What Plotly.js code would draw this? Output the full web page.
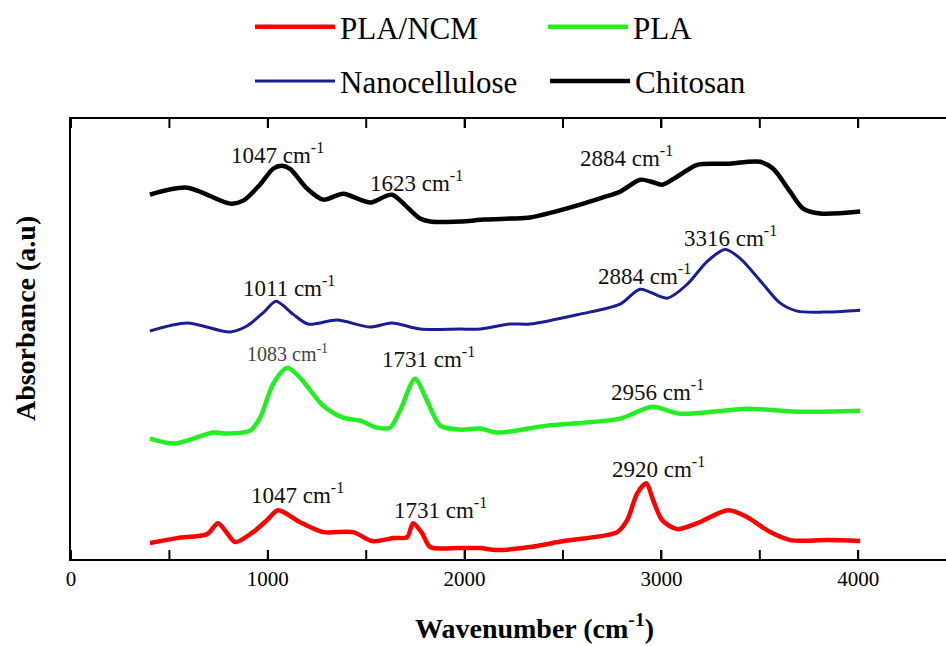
<!DOCTYPE html>
<html>
<head>
<meta charset="utf-8">
<script src="https://cdn.plot.ly/plotly-3.0.1.min.js"></script>
<style>html,body{margin:0;padding:0;background:#fff;}#chart{width:946px;height:646px;}</style>
</head>
<body>
<div id="chart"></div>
<script>
// Wavenumber (cm-1) and absorbance (a.u., offset-stacked)
const seriesNames = ["PLA/NCM", "PLA", "Nanocellulose", "Chitosan"];

const chitosanX = [401, 590, 808, 875, 960, 1027, 1070, 1113, 1200, 1281, 1383, 1469, 1520, 1631, 1700, 1774, 1825, 1977, 2100, 2231, 2333, 2460, 2587, 2700, 2790, 2892, 2950, 3004, 3095, 3182, 3334, 3502, 3568, 3654, 3720, 3807, 4010];
const chitosanY = [3.66, 3.73, 3.57, 3.60, 3.76, 3.92, 3.95, 3.92, 3.72, 3.61, 3.67, 3.61, 3.58, 3.66, 3.55, 3.42, 3.39, 3.39, 3.41, 3.42, 3.43, 3.49, 3.56, 3.63, 3.69, 3.81, 3.79, 3.76, 3.86, 3.96, 3.97, 3.99, 3.92, 3.69, 3.52, 3.47, 3.49];

const nanoX = [401, 590, 808, 894, 980, 1042, 1128, 1204, 1352, 1520, 1631, 1774, 1977, 2079, 2231, 2333, 2587, 2790, 2892, 3029, 3131, 3233, 3324, 3400, 3517, 3604, 3690, 3822, 4010];
const nanoY = [2.29, 2.37, 2.28, 2.34, 2.48, 2.59, 2.46, 2.36, 2.40, 2.33, 2.37, 2.31, 2.31, 2.31, 2.36, 2.36, 2.46, 2.56, 2.71, 2.62, 2.76, 2.99, 3.11, 3.02, 2.76, 2.57, 2.49, 2.48, 2.50];

const plaX = [401, 529, 722, 793, 910, 961, 1027, 1098, 1164, 1281, 1383, 1469, 1555, 1621, 1672, 1748, 1809, 1876, 1977, 2079, 2165, 2419, 2790, 2953, 3095, 3436, 3690, 4010];
const plaY = [1.21, 1.16, 1.27, 1.26, 1.29, 1.42, 1.76, 1.92, 1.82, 1.54, 1.42, 1.39, 1.32, 1.32, 1.49, 1.81, 1.59, 1.34, 1.30, 1.31, 1.27, 1.34, 1.41, 1.53, 1.46, 1.51, 1.48, 1.49];

const plaNcmX = [401, 539, 691, 747, 793, 834, 925, 996, 1052, 1164, 1281, 1433, 1530, 1637, 1708, 1738, 1784, 1825, 1977, 2079, 2165, 2333, 2501, 2775, 2826, 2877, 2923, 2958, 3004, 3080, 3182, 3339, 3436, 3553, 3654, 3842, 4010];
const plaNcmY = [0.16, 0.21, 0.25, 0.36, 0.26, 0.17, 0.27, 0.39, 0.49, 0.37, 0.27, 0.27, 0.18, 0.21, 0.22, 0.36, 0.26, 0.12, 0.11, 0.11, 0.09, 0.12, 0.18, 0.27, 0.39, 0.66, 0.76, 0.59, 0.39, 0.30, 0.36, 0.49, 0.42, 0.27, 0.19, 0.19, 0.18];

// Peak labels
const peakText = ["1047 cm<sup>-1</sup>", "1623 cm<sup>-1</sup>", "2884 cm<sup>-1</sup>", "1011 cm<sup>-1</sup>", "2884 cm<sup>-1</sup>", "3316 cm<sup>-1</sup>", "1083 cm<sup>-1</sup>", "1731 cm<sup>-1</sup>", "2956 cm<sup>-1</sup>", "1047 cm<sup>-1</sup>", "1731 cm<sup>-1</sup>", "2920 cm<sup>-1</sup>"];
const peakX = [1047, 1753, 2821, 1108, 2912, 3349, 1098, 1815, 2980, 1152, 1875, 2985];
const peakY = [4.07, 3.79, 4.04, 2.74, 2.86, 3.24, 2.07, 2.02, 1.69, 0.66, 0.51, 0.92];

// Axis ticks
const xTickVals = [0, 1000, 2000, 3000, 4000];
const xTickText = ["0", "1000", "2000", "3000", "4000"];
const xAllTicks = [0, 500, 1000, 1500, 2000, 2500, 3000, 3500, 4000];

const serif = "Liberation Serif, Times New Roman, serif";
const colors = ["#ff0000", "#22ee22", "#1c1c96", "#000000"];
const widths = [4.5, 4.5, 3, 4.5];
const xs = [plaNcmX, plaX, nanoX, chitosanX];
const ys = [plaNcmY, plaY, nanoY, chitosanY];
const legendIds = ["legend", "legend2", "legend3", "legend4"];

const traces = seriesNames.map((n, i) => ({
  type: "scatter", mode: "lines", name: n, x: xs[i], y: ys[i],
  legend: legendIds[i],
  line: {color: colors[i], width: widths[i], shape: "spline", smoothing: 0.8}
}));

const annotations = peakText.map((t, i) => ({
  x: peakX[i], y: peakY[i], xref: "x", yref: "y", text: t, showarrow: false,
  font: i === 6 ? {family: serif, size: 20, color: "#444"} : {family: serif, size: 23, color: "#111"}
}));
annotations.push({
  xref: "paper", yref: "paper", x: (534 - 71) / 875, y: (559 - 627) / 442,
  text: "<b>Wavenumber (cm<sup>-1</sup>)</b>", showarrow: false,
  font: {family: serif, size: 28, color: "#000"}, xanchor: "center", yanchor: "middle"
});
annotations.push({
  xref: "paper", yref: "paper", x: (25 - 71) / 875, y: (559 - 318) / 442,
  text: "<b>Absorbance (a.u)</b>", showarrow: false, textangle: -90,
  font: {family: serif, size: 28, color: "#000"}, xanchor: "center", yanchor: "middle"
});

// Inward tick marks on bottom and top frame lines, placed on the x scale
const tickFrac = 9 / 442;
const tickShapes = [];
xAllTicks.forEach(v => {
  tickShapes.push({type: "line", xref: "x", yref: "paper", x0: v, x1: v, y0: 0, y1: tickFrac, line: {color: "#000", width: 2}});
  tickShapes.push({type: "line", xref: "x", yref: "paper", x0: v, x1: v, y0: 1, y1: 1 - tickFrac, line: {color: "#000", width: 2}});
});

function legendAt(px, py) {
  return {
    orientation: "h", x: (px - 71) / 875, y: (559 - py) / 442, xanchor: "left", yanchor: "top",
    font: {family: serif, size: 31, color: "#000"}, itemwidth: 80,
    bgcolor: "rgba(0,0,0,0)", borderwidth: 0
  };
}

const layout = {
  width: 946, height: 646,
  margin: {l: 71, r: 0, t: 117, b: 87},
  paper_bgcolor: "#ffffff", plot_bgcolor: "#ffffff",
  showlegend: true,
  legend: legendAt(250, -3),
  legend2: legendAt(543, -3),
  legend3: legendAt(250, 52),
  legend4: legendAt(545, 52),
  xaxis: {
    range: [0, 4446], showgrid: false, zeroline: false,
    showline: true, linecolor: "#000", linewidth: 2, mirror: "ticks",
    ticks: "inside", ticklen: 9, tickwidth: 2, tickcolor: "#000000",
    tickmode: "array", tickvals: xTickVals, ticktext: xTickText,
    tickfont: {family: serif, size: 21, color: "#000"}
  },
  yaxis: {
    range: [0, 4.42], showgrid: false, zeroline: false,
    showline: true, linecolor: "#000", linewidth: 2, mirror: false,
    ticks: "", showticklabels: false
  },
  shapes: tickShapes,
  annotations: annotations
};

Plotly.newPlot("chart", traces, layout, {displayModeBar: false, staticPlot: true});
</script>
</body>
</html>
